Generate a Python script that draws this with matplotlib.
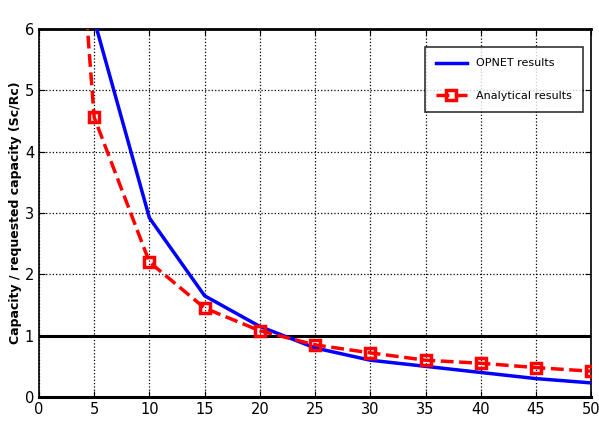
import numpy as np
import matplotlib.pyplot as plt

# Capacity ratio vs. number of users
x_opnet = [5, 10, 15, 20, 25, 30, 35, 40, 45, 50]
y_opnet = [6.15, 2.92, 1.65, 1.15, 0.80, 0.60, 0.50, 0.40, 0.30, 0.23]

x_anal = [4, 5, 10, 15, 20, 25, 30, 35, 40, 45, 50]
y_anal = [6.95, 4.56, 2.20, 1.45, 1.08, 0.85, 0.72, 0.60, 0.55, 0.48, 0.42]

xticks = np.arange(0, 51, 5)
yticks = np.arange(0, 7, 1)

fig = plt.figure(figsize=(5.99, 4.32), dpi=100)
ax = fig.add_axes([0.065, 0.081, 0.922, 0.852])

ax.axhline(1, color='black', lw=2.2, zorder=2)
ax.plot(x_opnet, y_opnet, color='#0000ff', lw=2.5, label='OPNET results', zorder=3)
ax.plot(x_anal, y_anal, color='#ff0000', lw=2.5, ls='--', marker='s', ms=7,
        mfc='none', mew=2.5, markevery=list(range(1, len(x_anal))),
        label='Analytical results', zorder=4)

ax.set_xlim(0, 50)
ax.set_ylim(0, 6)
ax.set_xticks(xticks)
ax.set_yticks(yticks)
ax.grid(True, color='black', ls=':', lw=0.9)
ax.tick_params(direction='in', length=4, labelsize=10.5, top=True, right=True)
for s in ax.spines.values():
    s.set_linewidth(1.2)
ax.spines['bottom'].set_linewidth(2.2)
ax.spines['top'].set_linewidth(2.0)

ax.set_ylabel('Capacity / requested capacity (Sc/Rc)', fontsize=9,
              fontweight='bold', labelpad=2)

leg = ax.legend(loc='upper right', fontsize=8, frameon=True, fancybox=False,
                edgecolor='black', borderpad=1.0, handlelength=2.8,
                labelspacing=2.0, bbox_to_anchor=(0.995, 0.965))
leg.get_frame().set_linewidth(1.2)

fig.savefig('out.png', dpi=100)
